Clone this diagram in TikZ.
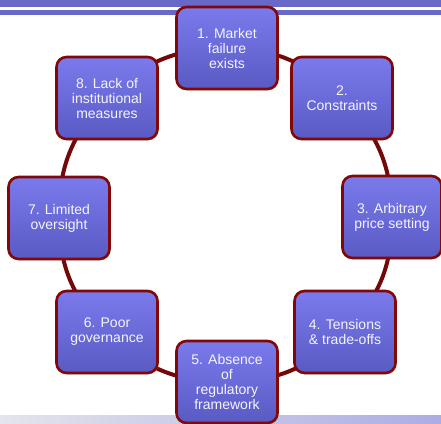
\documentclass[tikz,border=0pt]{standalone}
\usepackage{fontspec}
\setmainfont{Liberation Sans}
\usetikzlibrary{backgrounds,shadows}
\definecolor{bandpurple}{RGB}{104,104,200}
\definecolor{boxtop}{RGB}{122,122,236}
\definecolor{boxbot}{RGB}{90,90,196}
\definecolor{rim}{RGB}{130,8,8}
\definecolor{conn}{RGB}{115,8,8}
\definecolor{txt}{RGB}{244,244,255}
\tikzset{
  stepbox/.style={rectangle, rounded corners=10pt, minimum width=101pt, minimum height=82pt,
    draw=rim, line width=2.6pt, top color=boxtop, bottom color=boxbot,
    text=txt, align=center, inner sep=2pt,
    font=\fontsize{14}{15}\selectfont,
    drop shadow={shadow xshift=1.5pt, shadow yshift=-1.5pt, opacity=0.2}},
  link/.style={draw=conn, line width=4pt}
}
\begin{document}
\begin{tikzpicture}[x=1pt,y=-1pt]
\useasboundingbox (0,0) rectangle (441,423);
\fill[bandpurple] (0,0) rectangle (441,7);
\fill[bandpurple] (0,10) rectangle (441,15);
\shade[left color={rgb,255:red,228;green,228;blue,236}, right color={rgb,255:red,172;green,172;blue,228}] (0,415) rectangle (441,423);

\node[stepbox] (n1) at (227,48) {1. Market\\failure\\exists};
\node[stepbox] (n2) at (342,98) {2.\\Constraints};
\node[stepbox, minimum width=99pt] (n3) at (392,217) {3. Arbitrary\\price setting};
\node[stepbox] (n4) at (345,332) {4. Tensions\\\& trade-offs};
\node[stepbox] (n5) at (227,382) {5. Absence\\of\\regulatory\\framework};
\node[stepbox] (n6) at (107,332) {6. Poor\\governance};
\node[stepbox] (n7) at (59,218) {7. Limited\\oversight};
\node[stepbox] (n8) at (107,98) {8. Lack of\\institutional\\measures};

\begin{pgfonlayer}{background}
\draw[link] (n1.center) to[bend left=22.5] (n2.center);
\draw[link] (n2.center) to[bend left=22.5] (n3.center);
\draw[link] (n3.center) to[bend left=22.5] (n4.center);
\draw[link] (n4.center) to[bend left=22.5] (n5.center);
\draw[link] (n5.center) to[bend left=22.5] (n6.center);
\draw[link] (n6.center) to[bend left=22.5] (n7.center);
\draw[link] (n7.center) to[bend left=22.5] (n8.center);
\draw[link] (n8.center) to[bend left=22.5] (n1.center);
\end{pgfonlayer}
\end{tikzpicture}
\end{document}
